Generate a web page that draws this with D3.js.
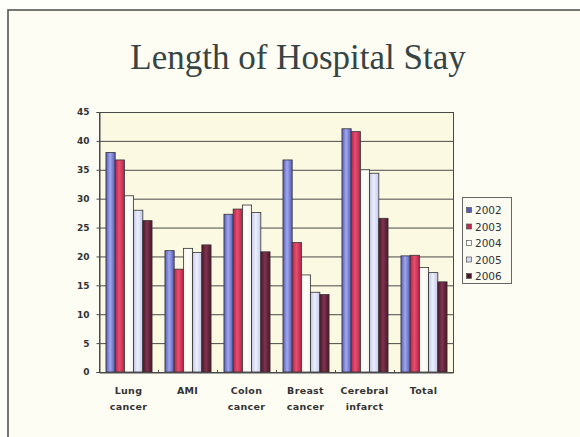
<!DOCTYPE html>
<html>
<head>
<meta charset="utf-8">
<script src="https://cdn.jsdelivr.net/npm/d3@7"></script>
<style>
  html, body { margin: 0; padding: 0; background: #fefefa; }
  svg { display: block; }
</style>
</head>
<body>
<svg id="chart" width="580" height="437"></svg>
<script>
// Average length of stay (days) by diagnosis and year
const categories = [["Lung", "cancer"], ["AMI"], ["Colon", "cancer"], ["Breast", "cancer"], ["Cerebral", "infarct"], ["Total"]];
const years = ["2002", "2003", "2004", "2005", "2006"];
const stay2002 = [38.0, 21.0, 27.3, 36.7, 42.1, 20.1];
const stay2003 = [36.7, 17.8, 28.2, 22.4, 41.6, 20.2];
const stay2004 = [30.5, 21.4, 28.9, 16.8, 35.0, 18.1];
const stay2005 = [28.0, 20.7, 27.6, 13.8, 34.4, 17.2];
const stay2006 = [26.2, 22.0, 20.8, 13.4, 26.6, 15.6];
const yTicks = [0, 5, 10, 15, 20, 25, 30, 35, 40, 45];

const series = [stay2002, stay2003, stay2004, stay2005, stay2006];
const catKeys = categories.map(c => c.join(" "));

// edge / centre colours for the shaded bar fills
const palette = [
  ["#555bb6", "#a2a8ec"],
  ["#b8224a", "#e6506e"],
  ["#f4f2e4", "#ffffff"],
  ["#c4c8ea", "#eceffc"],
  ["#4e1428", "#7e3550"]
];
const legendFill = ["#555bb6", "#c02a50", "#ffffff", "#d6daf2", "#4e1428"];

const svg = d3.select("#chart");
const defs = svg.append("defs");
palette.forEach((p, i) => {
  const g = defs.append("linearGradient").attr("id", "shade" + i)
    .attr("x1", "0%").attr("x2", "100%").attr("y1", "0%").attr("y2", "0%");
  g.append("stop").attr("offset", "0%").attr("stop-color", p[0]);
  g.append("stop").attr("offset", "45%").attr("stop-color", p[1]);
  g.append("stop").attr("offset", "100%").attr("stop-color", p[0]);
});

// slide frame
svg.append("rect").attr("x", 8).attr("y", 10).attr("width", 640).attr("height", 500)
  .attr("fill", "#fefdf4").attr("stroke", "#555").attr("stroke-width", 1.6);

// title
svg.append("text").attr("x", 298).attr("y", 69).attr("text-anchor", "middle")
  .attr("font-family", "'Liberation Serif', 'Times New Roman', serif")
  .attr("font-size", 35).attr("fill", "#364444")
  .text("Length of Hospital Stay");

const plot = { left: 99, right: 453, top: 112, bottom: 372 };

const y = d3.scaleLinear().domain([0, 45]).range([plot.bottom, plot.top]);
const x0 = d3.scaleBand().domain(catKeys).range([plot.left, plot.right]).padding(0);
const x1 = d3.scaleBand().domain(years).range([0, x0.bandwidth()]).paddingInner(0).paddingOuter(0.7);

// plot background
svg.append("rect").attr("x", plot.left).attr("y", plot.top)
  .attr("width", plot.right - plot.left).attr("height", plot.bottom - plot.top)
  .attr("fill", "#fbf9e2");

// gridlines
svg.append("g").selectAll("line").data(yTicks.filter(t => t > 0)).join("line")
  .attr("x1", plot.left).attr("x2", plot.right)
  .attr("y1", d => y(d) + 0.5).attr("y2", d => y(d) + 0.5)
  .attr("stroke", "#4a4a4a").attr("stroke-width", 1);

// bars
const groups = svg.append("g").selectAll("g").data(catKeys).join("g")
  .attr("transform", d => `translate(${x0(d)},0)`);
groups.selectAll("rect")
  .data((d, ci) => years.map((yr, si) => ({ yr, si, v: series[si][ci] })))
  .join("rect")
  .attr("x", d => x1(d.yr) + 0.5)
  .attr("y", d => y(d.v))
  .attr("width", x1.bandwidth())
  .attr("height", d => y(0) - y(d.v))
  .attr("fill", d => `url(#shade${d.si})`)
  .attr("stroke", "#333").attr("stroke-width", 0.8);

// plot frame
svg.append("rect").attr("x", plot.left + 0.5).attr("y", plot.top + 0.5)
  .attr("width", plot.right - plot.left).attr("height", plot.bottom - plot.top)
  .attr("fill", "none").attr("stroke", "#4a4a4a").attr("stroke-width", 1);

// y axis
const yAxis = svg.append("g").attr("transform", `translate(${plot.left + 0.5},0)`)
  .call(d3.axisLeft(y).tickValues(yTicks).tickSize(3).tickPadding(7));
yAxis.select(".domain").attr("stroke", "#4a4a4a");
yAxis.selectAll(".tick line").attr("stroke", "#4a4a4a");
yAxis.selectAll("text").attr("font-family", "'DejaVu Sans', sans-serif")
  .attr("font-weight", "bold").attr("font-size", 9).attr("fill", "#333");

// x axis
const xAxis = svg.append("g").attr("transform", `translate(0,${plot.bottom + 0.5})`)
  .call(d3.axisBottom(x0).tickSize(0).tickFormat(""));
xAxis.select(".domain").attr("stroke", "#4a4a4a");
// small category separators
svg.append("g").selectAll("line").data(catKeys.slice(1)).join("line")
  .attr("x1", d => x0(d) + 0.5).attr("x2", d => x0(d) + 0.5)
  .attr("y1", plot.bottom - 2).attr("y2", plot.bottom + 1)
  .attr("stroke", "#4a4a4a");

const xLabels = svg.append("g").selectAll("text").data(categories).join("text")
  .attr("x", (d, i) => x0(catKeys[i]) + x0.bandwidth() / 2)
  .attr("y", 394)
  .attr("text-anchor", "middle")
  .attr("font-family", "'DejaVu Sans', sans-serif")
  .attr("font-weight", "bold").attr("font-size", 9.5).attr("letter-spacing", 0.3)
  .attr("fill", "#333");
xLabels.selectAll("tspan").data(d => d).join("tspan")
  .attr("x", function () { return d3.select(this.parentNode).attr("x"); })
  .attr("dy", (d, i) => i === 0 ? 0 : 16)
  .text(d => d);

// legend
const lg = svg.append("g");
lg.append("rect").attr("x", 462.5).attr("y", 197.5).attr("width", 49).attr("height", 86)
  .attr("fill", "#fcfbf2").attr("stroke", "#666").attr("stroke-width", 1);
const items = lg.selectAll("g").data(years).join("g")
  .attr("transform", (d, i) => `translate(0,${210.5 + i * 16.5})`);
items.append("rect").attr("x", 466.5).attr("y", -3).attr("width", 5).attr("height", 5)
  .attr("fill", (d, i) => legendFill[i])
  .attr("stroke", "#555").attr("stroke-width", 0.7);
items.append("text").attr("x", 475).attr("y", 3.5)
  .attr("font-family", "'DejaVu Sans', sans-serif").attr("font-size", 10.5)
  .attr("fill", "#333").text(d => d);
</script>
</body>
</html>
